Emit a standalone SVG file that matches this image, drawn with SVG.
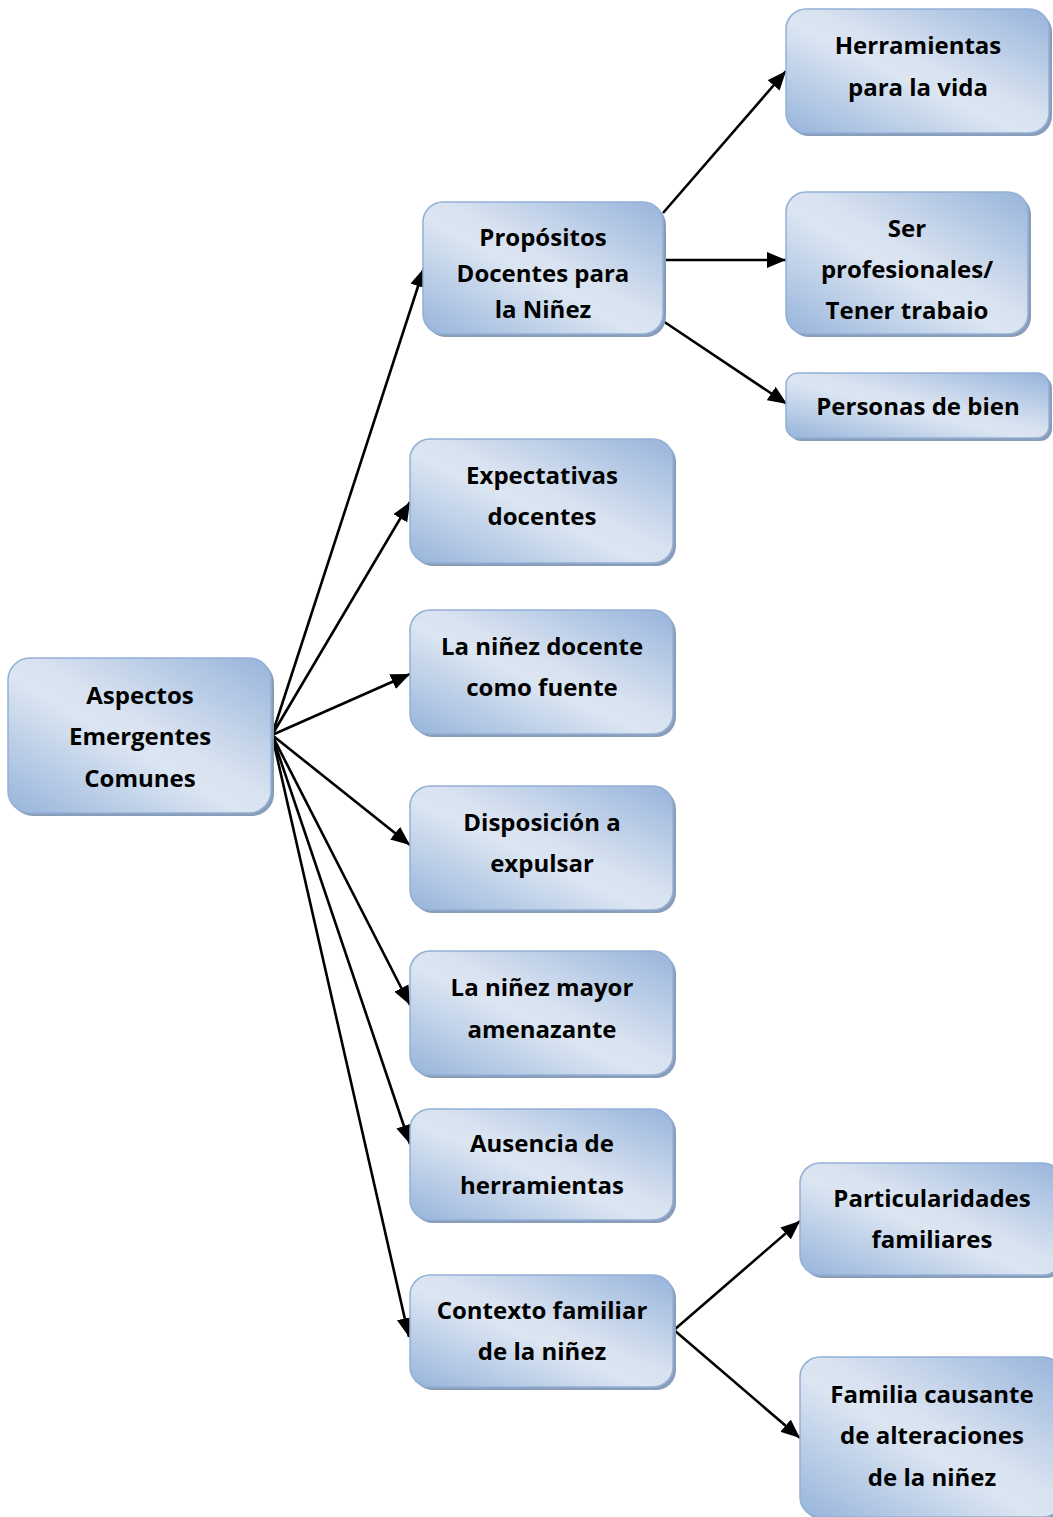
<svg xmlns="http://www.w3.org/2000/svg" width="1053" height="1517" viewBox="0 0 1053 1517">
  <defs>
    <linearGradient id="boxFill" x1="1" y1="0" x2="0" y2="1">
      <stop offset="0" stop-color="#97b4db"/>
      <stop offset="0.45" stop-color="#d8e2f0"/>
      <stop offset="0.55" stop-color="#dce6f2"/>
      <stop offset="1" stop-color="#97b4db"/>
    </linearGradient>
    <marker id="arrow" markerUnits="userSpaceOnUse" markerWidth="20" markerHeight="16" refX="19" refY="8" orient="auto">
      <path d="M0,0 L19,8 L0,16 z" fill="#000"/>
    </marker>
  </defs>
  <style>
    .shadow { fill: #8a9db8; }
    .box { fill: url(#boxFill); stroke: #92b0d6; stroke-width: 1.5; }
    .label { font-family: "Open Sans", "Liberation Sans", sans-serif; font-weight: bold; font-size: 24px; fill: #000; text-anchor: middle; }
    .edge { stroke: #000; stroke-width: 2.6; fill: none; marker-end: url(#arrow); }
  </style>

  <rect width="1053" height="1517" fill="#fff"/>

  <!-- connectors -->
  <g id="connectors">
    <line class="edge" x1="272" y1="735" x2="424" y2="268"/>
    <line class="edge" x1="272" y1="735" x2="410" y2="502"/>
    <line class="edge" x1="272" y1="735" x2="410" y2="674"/>
    <line class="edge" x1="272" y1="735" x2="410" y2="845"/>
    <line class="edge" x1="272" y1="735" x2="410" y2="1005"/>
    <line class="edge" x1="272" y1="735" x2="410" y2="1144"/>
    <line class="edge" x1="272" y1="735" x2="409" y2="1337"/>
    <line class="edge" x1="663" y1="213" x2="786" y2="71"/>
    <line class="edge" x1="663" y1="260" x2="786" y2="260"/>
    <line class="edge" x1="663" y1="321" x2="787" y2="404"/>
    <line class="edge" x1="674" y1="1330" x2="800" y2="1221"/>
    <line class="edge" x1="674" y1="1330" x2="800" y2="1438"/>
  </g>

  <!-- root -->
  <g id="aspectos">
    <rect class="shadow" x="11" y="661" width="263" height="155" rx="22"/>
    <rect class="box" x="8" y="658" width="263" height="155" rx="22"/>
    <text class="label" x="140" y="704">Aspectos</text>
    <text class="label" x="140" y="745">Emergentes</text>
    <text class="label" x="140" y="787">Comunes</text>
  </g>

  <g id="propositos">
    <rect class="shadow" x="426" y="205" width="240" height="132" rx="20"/>
    <rect class="box" x="423" y="202" width="240" height="132" rx="20"/>
    <text class="label" x="543" y="246">Propósitos</text>
    <text class="label" x="543" y="282">Docentes para</text>
    <text class="label" x="543" y="318">la Niñez</text>
  </g>

  <g id="herramientas-vida">
    <rect class="shadow" x="789" y="12" width="263" height="124" rx="20"/>
    <rect class="box" x="786" y="9" width="263" height="124" rx="20"/>
    <text class="label" x="918" y="54">Herramientas</text>
    <text class="label" x="918" y="96">para la vida</text>
  </g>

  <g id="ser-profesionales">
    <rect class="shadow" x="789" y="195" width="242" height="142" rx="20"/>
    <rect class="box" x="786" y="192" width="242" height="142" rx="20"/>
    <text class="label" x="907" y="237">Ser</text>
    <text class="label" x="907" y="278">profesionales/</text>
    <text class="label" x="907" y="319">Tener trabaio</text>
  </g>

  <g id="personas-bien">
    <rect class="shadow" x="789" y="376" width="263" height="65" rx="12"/>
    <rect class="box" x="786" y="373" width="263" height="65" rx="12"/>
    <text class="label" x="918" y="415">Personas de bien</text>
  </g>

  <g id="expectativas">
    <rect class="shadow" x="413" y="442" width="263" height="124" rx="20"/>
    <rect class="box" x="410" y="439" width="263" height="124" rx="20"/>
    <text class="label" x="542" y="484">Expectativas</text>
    <text class="label" x="542" y="525">docentes</text>
  </g>

  <g id="ninez-fuente">
    <rect class="shadow" x="413" y="613" width="263" height="124" rx="20"/>
    <rect class="box" x="410" y="610" width="263" height="124" rx="20"/>
    <text class="label" x="542" y="655">La niñez docente</text>
    <text class="label" x="542" y="696">como fuente</text>
  </g>

  <g id="disposicion">
    <rect class="shadow" x="413" y="789" width="263" height="124" rx="20"/>
    <rect class="box" x="410" y="786" width="263" height="124" rx="20"/>
    <text class="label" x="542" y="831">Disposición a</text>
    <text class="label" x="542" y="872">expulsar</text>
  </g>

  <g id="ninez-mayor">
    <rect class="shadow" x="413" y="954" width="263" height="124" rx="20"/>
    <rect class="box" x="410" y="951" width="263" height="124" rx="20"/>
    <text class="label" x="542" y="996">La niñez mayor</text>
    <text class="label" x="542" y="1038">amenazante</text>
  </g>

  <g id="ausencia">
    <rect class="shadow" x="413" y="1112" width="263" height="111" rx="20"/>
    <rect class="box" x="410" y="1109" width="263" height="111" rx="20"/>
    <text class="label" x="542" y="1152">Ausencia de</text>
    <text class="label" x="542" y="1194">herramientas</text>
  </g>

  <g id="contexto">
    <rect class="shadow" x="413" y="1278" width="263" height="112" rx="20"/>
    <rect class="box" x="410" y="1275" width="263" height="112" rx="20"/>
    <text class="label" x="542" y="1319">Contexto familiar</text>
    <text class="label" x="542" y="1360">de la niñez</text>
  </g>

  <g id="particularidades">
    <rect class="shadow" x="803" y="1166" width="263" height="112" rx="20"/>
    <rect class="box" x="800" y="1163" width="263" height="112" rx="20"/>
    <text class="label" x="932" y="1207">Particularidades</text>
    <text class="label" x="932" y="1248">familiares</text>
  </g>

  <g id="familia-causante">
    <rect class="shadow" x="803" y="1360" width="263" height="160" rx="20"/>
    <rect class="box" x="800" y="1357" width="263" height="160" rx="20"/>
    <text class="label" x="932" y="1403">Familia causante</text>
    <text class="label" x="932" y="1444">de alteraciones</text>
    <text class="label" x="932" y="1486">de la niñez</text>
  </g>
</svg>
